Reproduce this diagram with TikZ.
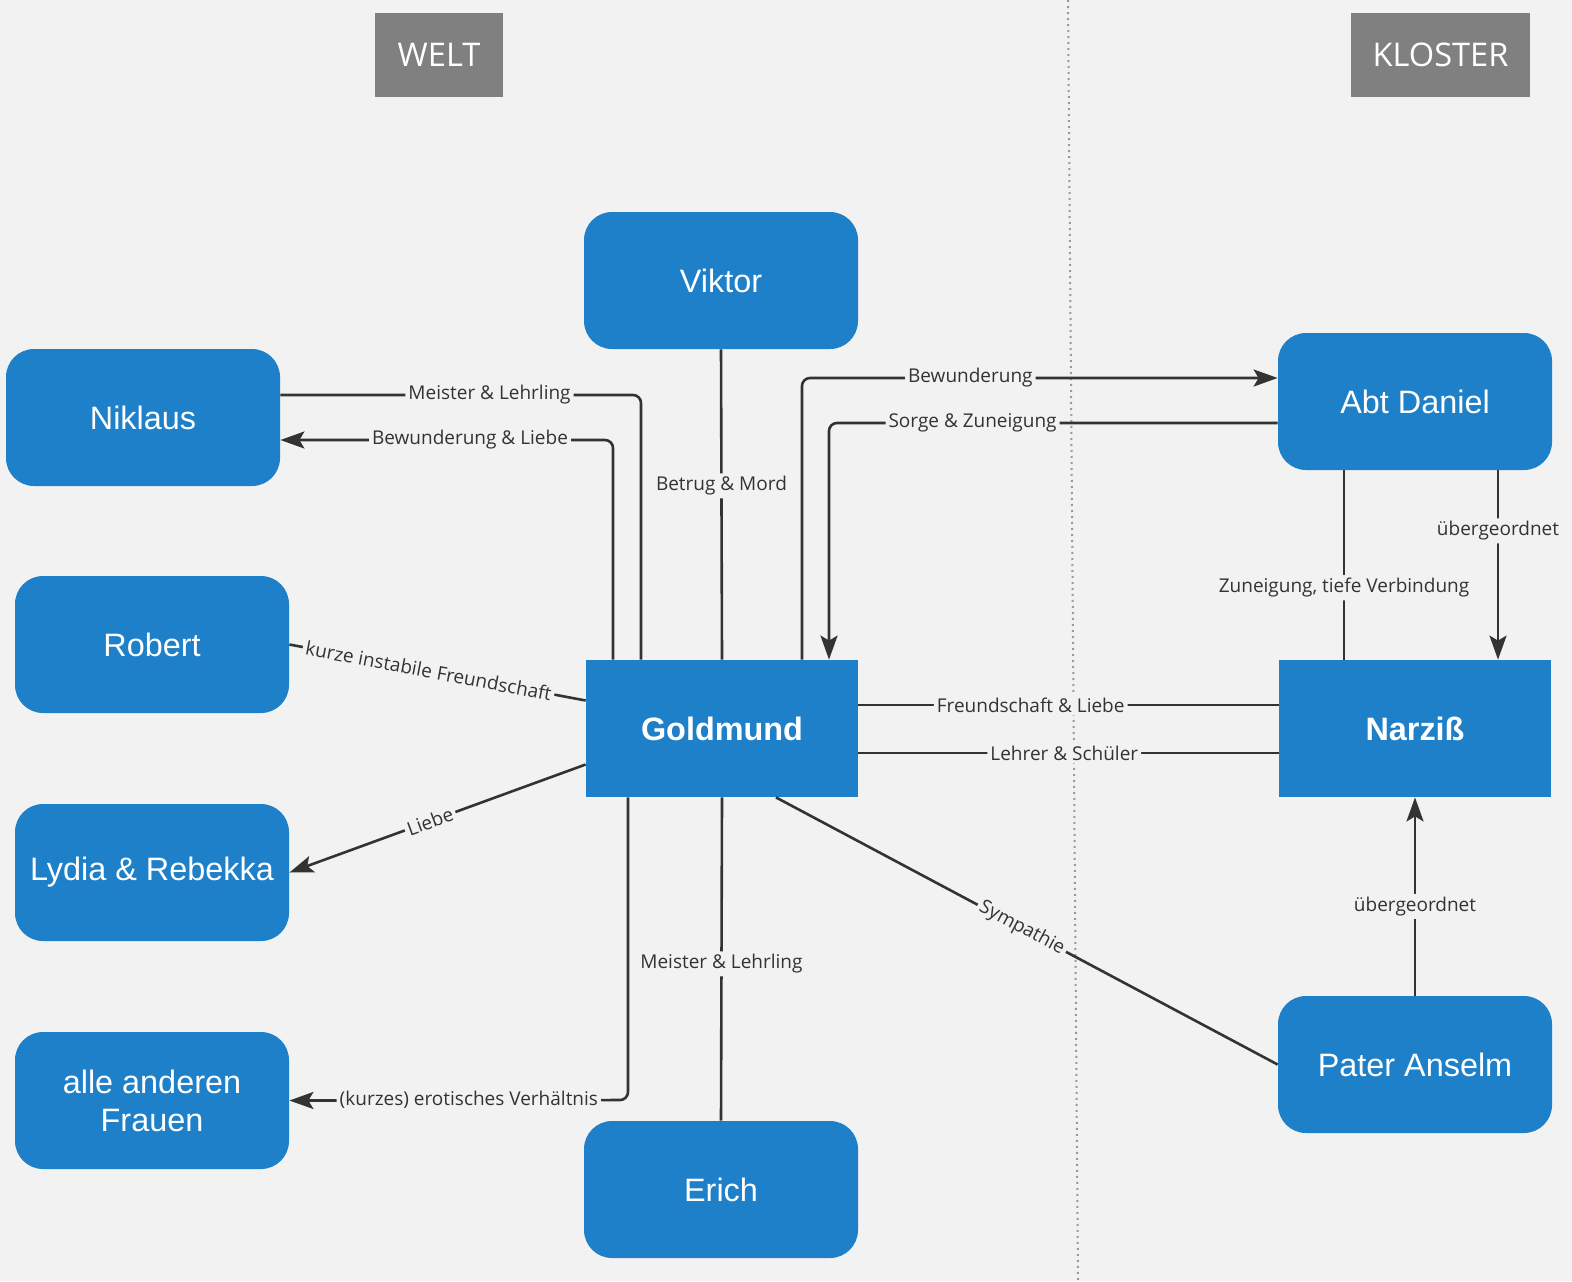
\documentclass[tikz,border=0pt]{standalone}
\usepackage{fontspec}
\setmainfont{Open Sans}
\newfontfamily\arialf{Liberation Sans}
\usetikzlibrary{arrows.meta}
\definecolor{bgc}{RGB}{242,242,242}
\definecolor{blu}{RGB}{30,128,200}
\definecolor{hdr}{RGB}{128,128,128}
\definecolor{lnc}{RGB}{51,51,51}
\begin{document}
\begin{tikzpicture}[x=0.5pt,y=-0.5pt,
  person/.style={fill=blu,text=white,rounded corners=14pt,minimum width=137pt,minimum height=68.5pt,inner sep=0pt,font=\arialf\fontsize{16.2}{19}\selectfont,align=center},
  main/.style={fill=blu,text=white,minimum width=136pt,minimum height=68.5pt,inner sep=0pt,font=\arialf\bfseries\fontsize{16.2}{19}\selectfont},
  header/.style={fill=hdr,text=white,minimum height=42pt,inner sep=0pt,font=\fontsize{16.3}{19}\selectfont},
  conn/.style={draw=lnc,line width=1.3pt,rounded corners=4pt},
  arr/.style={conn,-{Stealth[length=12pt,width=8.5pt,inset=2.5pt]}},
  lab/.style={fill=bgc,text=lnc,inner sep=1.5pt,font=\fontsize{9.5}{11}\selectfont}]
\fill[bgc] (0,0) rectangle (1572,1281);
\useasboundingbox (0,0) rectangle (1572,1281);
\coordinate (dtop) at (1068,0);
\coordinate (dbot) at (1078,1281);
\draw[hdr!80,line width=1pt,dash pattern=on 1pt off 2pt] (dtop) -- (dbot);
% headers
\node[header,minimum width=64pt] (welt) at (439,55) {WELT};
\node[header,minimum width=89.5pt] (kloster) at (1440.5,55) {KLOSTER};
% nodes
\node[person] (vik) at (721,280.5) {Viktor};
\node[person] (nik) at (143,417.5) {Niklaus};
\node[person] (rob) at (152,644.5) {Robert};
\node[person] (lyd) at (152,872.5) {Lydia \& Rebekka};
\node[person] (fra) at (152,1100.5) {alle anderen\\Frauen};
\node[person] (eri) at (721,1189.5) {Erich};
\node[main] (gold) at (722,728.5) {Goldmund};
\node[person] (abt) at (1415,401.5) {Abt Daniel};
\node[main] (narz) at (1415,728.5) {Narziß};
\node[person] (pat) at (1415,1064.5) {Pater Anselm};
% connectors
\draw[conn] (nik.east |- 0,395) -- node[lab,pos=0.58]{Meister \& Lehrling} (641,395) -- (641,0 |- gold.north);
\draw[arr] (613,0 |- gold.north) -- (613,440) -- node[lab,pos=0.43]{Bewunderung \& Liebe} (nik.east |- 0,440);
\draw[conn] (vik.south) -- node[lab,pos=0.44]{Betrug \& Mord} (gold.north);
\draw[arr] (802,0 |- gold.north) -- (802,378) -- node[lab,pos=0.354]{Bewunderung} (abt.west |- 0,378);
\draw[arr] (abt.west |- 0,423) -- node[lab,pos=0.68]{Sorge \& Zuneigung} (829,423) -- (829,0 |- gold.north);
\draw[conn] (rob.east) -- node[lab,pos=0.47,sloped]{kurze instabile Freundschaft} ([yshift=14pt]gold.west);
\draw[arr] ([yshift=-18pt]gold.west) -- node[lab,pos=0.525,sloped]{Liebe} (lyd.east);
\draw[arr] (628,0 |- gold.south) -- (628,1100) -- node[lab,pos=0.47]{(kurzes) erotisches Verhältnis} (fra.east);
\draw[conn] (gold.south) -- node[lab,pos=0.515]{Meister \& Lehrling} (eri.north);
\draw[conn] ([xshift=27pt]gold.south) -- node[lab,pos=0.49,sloped]{Sympathie} (pat.west);
\draw[conn] ([yshift=11.75pt]gold.east) -- node[lab,pos=0.41]{Freundschaft \& Liebe} ([yshift=11.75pt]narz.west);
\draw[conn] ([yshift=-12.25pt]gold.east) -- node[lab,pos=0.49]{Lehrer \& Schüler} ([yshift=-12.25pt]narz.west);
\draw[conn] ([xshift=-35.5pt]abt.south) -- node[lab,pos=0.62]{Zuneigung, tiefe Verbindung} ([xshift=-35.5pt]narz.north);
\draw[arr] ([xshift=41.5pt]abt.south) -- node[lab,pos=0.32]{übergeordnet} ([xshift=41.5pt]narz.north);
\draw[arr] (pat.north) -- node[lab,pos=0.45]{übergeordnet} (narz.south);
\end{tikzpicture}
\end{document}
